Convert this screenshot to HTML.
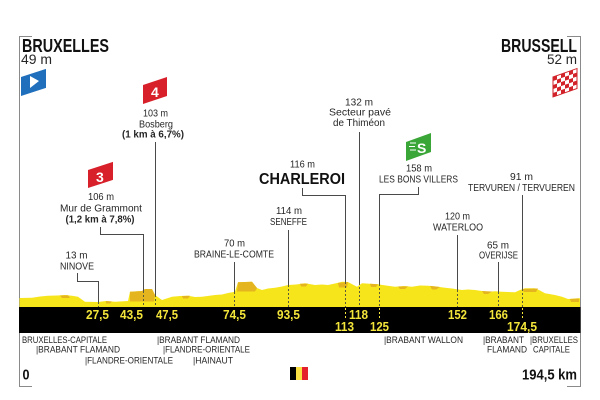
<!DOCTYPE html>
<html><head><meta charset="utf-8"><style>
html,body{margin:0;padding:0;background:#fff;}
svg{display:block;}
text{font-family:"Liberation Sans Narrow","Liberation Sans",sans-serif;fill:#262626;}
.b{font-weight:bold;}
.km{font-weight:bold;fill:#f3e53a;font-size:12.5px;}
.lbl{font-size:10.5px;}
.reg{font-size:9.5px;fill:#333;}
</style></head><body>
<svg width="600" height="400" viewBox="0 0 600 400" xmlns="http://www.w3.org/2000/svg">
<rect width="600" height="400" fill="#fff"/>
<!-- frame -->
<g stroke="#8a8a8a" stroke-width="1" fill="none">
<path d="M32,36.5 H19.5 V386.5 H32"/>
<path d="M567,36.5 H580.5 V386.5 H567"/>
</g>
<!-- profile -->
<polygon fill="#f7e51c" points="19.5,307 19.5,298 32,297.7 40,296.5 48,295.7 57,295.5 65,295 72,295.8 78,296.7 85,301.7 98,302 106,301 115,301.7 128,301 130,291.7 142,291 145,289 152,289 155,295 162,300 172,296.7 180,296 188,295.7 195,297 202,296.7 215,295 222,294.5 228,293 235,291.7 238,282.3 252,281.7 257,288 262,290 268,288.5 275,287.7 282,286.5 288,285 296,284.5 305,283.3 315,285 322,284.5 328,285 335,283.5 342,281.7 348,282 357,286.7 362,283.3 370,283.8 378,284.3 386,285.5 395,286.7 404,286 412,286.7 420,285.5 428,285.7 436,286.5 445,287.7 452,288.5 462,290 468,289.5 475,290 482,291 488,291.7 495,291.2 502,291.7 508,292 515,292.3 520,290 525,288.3 535,288.3 540,290.5 545,293.3 555,295 562,296.7 568,299 578,298.3 580,298.3 580,307"/>
<g fill="#e4b51e">
<polygon points="130,291.7 142,291 145,289 152,289 155,295 154,301.5 130,301.5"/>
<polygon points="237,291.5 238,282.3 252,281.7 257,288 255,291.5"/>
<polygon points="60,295.5 68,295.3 70,298 62,298"/>
<polygon points="106,301 112,301.5 110,303.5 106,303.5"/>
<polygon points="182,296 190,295.8 188,298.5 183,298.5"/>
<polygon points="338,283 348,282 347,287.5 339,287.5"/>
<polygon points="300,283.8 308,283.6 306,286.5 301,286.5"/>
<polygon points="398,286.5 408,286.4 405,289 400,289"/>
<polygon points="370,283.8 378,284.3 376,287 371,287"/>
<polygon points="430,285.9 440,287 436,289.5 432,289.5"/>
<polygon points="482,291 492,291.5 488,294 484,294"/>
<polygon points="522,289 538,288.5 536,292 524,292"/>
<polygon points="570,299 579,298.5 579,302 571,302"/>
</g>
<!-- black band -->
<rect x="19" y="307" width="561.5" height="26" fill="#000"/>
<!-- leader lines -->
<g stroke="#4a4a4a" stroke-width="1" fill="none">
<path d="M155.5,142 V295"/>
<path d="M100.5,227 V234.5 H143.5 V291"/>
<path d="M77.5,273 V281.5 H98.5 V302"/>
<path d="M234.5,262 V292"/>
<path d="M288.5,230 V285"/>
<path d="M302.5,188 V195.5 H345.5 V282"/>
<path d="M359.5,132 V283"/>
<path d="M418.5,187 V194.5 H379.5 V284"/>
<path d="M457.5,235 V290"/>
<path d="M498.5,262 V292"/>
<path d="M522.5,195 V289"/>
</g>
<g stroke="#5a5a3a" stroke-width="1" stroke-dasharray="2,2" fill="none">
<path d="M98.5,302 V307"/>
<path d="M143.5,291 V307"/>
<path d="M155.5,295 V307"/>
<path d="M234.5,292 V307"/>
<path d="M288.5,285 V307"/>
<path d="M345.5,282 V307"/>
<path d="M359.5,283 V307"/>
<path d="M379.5,284 V307"/>
<path d="M457.5,290 V307"/>
<path d="M498.5,292 V307"/>
<path d="M522.5,289 V307"/>
</g>
<g stroke="#f3e53a" stroke-width="1" stroke-dasharray="2,2" fill="none">
<path d="M345.5,308 V320"/>
<path d="M379.5,308 V320"/>
<path d="M522.5,308 V320"/>
</g>
<!-- km labels -->
<text class="km" x="86" y="319" textLength="23" lengthAdjust="spacingAndGlyphs">27,5</text>
<text class="km" x="120" y="319" textLength="23" lengthAdjust="spacingAndGlyphs">43,5</text>
<text class="km" x="156" y="319" textLength="22" lengthAdjust="spacingAndGlyphs">47,5</text>
<text class="km" x="223" y="319" textLength="23" lengthAdjust="spacingAndGlyphs">74,5</text>
<text class="km" x="277" y="319" textLength="23" lengthAdjust="spacingAndGlyphs">93,5</text>
<text class="km" x="349" y="319" textLength="19" lengthAdjust="spacingAndGlyphs">118</text>
<text class="km" x="335" y="331" textLength="19" lengthAdjust="spacingAndGlyphs">113</text>
<text class="km" x="370" y="331" textLength="19" lengthAdjust="spacingAndGlyphs">125</text>
<text class="km" x="448" y="319" textLength="19" lengthAdjust="spacingAndGlyphs">152</text>
<text class="km" x="489" y="319" textLength="19" lengthAdjust="spacingAndGlyphs">166</text>
<text class="km" x="507" y="331" textLength="30" lengthAdjust="spacingAndGlyphs">174,5</text>
<!-- start / finish -->
<text class="b" x="22" y="52" font-size="18" textLength="87" lengthAdjust="spacingAndGlyphs" style="fill:#111">BRUXELLES</text>
<text x="21" y="64" font-size="14" textLength="31" lengthAdjust="spacingAndGlyphs">49 m</text>
<text class="b" x="501" y="52" font-size="18" textLength="76" lengthAdjust="spacingAndGlyphs" style="fill:#111">BRUSSELL</text>
<text x="547" y="64" font-size="14" textLength="30" lengthAdjust="spacingAndGlyphs">52 m</text>
<!-- blue flag -->
<g transform="translate(21,77) skewY(-18)"><rect width="25" height="19" fill="#1f6fbd"/></g>
<polygon points="30,76 30,88 39,81" fill="#fff"/>
<!-- checkered -->
<g transform="translate(553,77) skewY(-19.5)">
<rect width="24" height="20" fill="#fff" stroke="#d2232a" stroke-width="1"/>
<g fill="#d2232a">
<rect x="0" y="0" width="4" height="4"/><rect x="8" y="0" width="4" height="4"/><rect x="16" y="0" width="4" height="4"/>
<rect x="4" y="4" width="4" height="4"/><rect x="12" y="4" width="4" height="4"/><rect x="20" y="4" width="4" height="4"/>
<rect x="0" y="8" width="4" height="4"/><rect x="8" y="8" width="4" height="4"/><rect x="16" y="8" width="4" height="4"/>
<rect x="4" y="12" width="4" height="4"/><rect x="12" y="12" width="4" height="4"/><rect x="20" y="12" width="4" height="4"/>
<rect x="0" y="16" width="4" height="4"/><rect x="8" y="16" width="4" height="4"/><rect x="16" y="16" width="4" height="4"/>
</g></g>
<!-- climb flags -->
<g transform="translate(143,85) skewY(-18.4)"><rect width="24" height="19" fill="#d8202a"/></g>
<text class="b" x="151" y="97" font-size="14" style="fill:#fff">4</text>
<g transform="translate(88,170) skewY(-18)"><rect width="25" height="18" fill="#d8202a"/></g>
<text class="b" x="96" y="182" font-size="14" style="fill:#fff">3</text>
<g transform="translate(406,142) skewY(-19.8)"><rect width="25" height="19" fill="#3aa637"/></g>
<text class="b" x="417" y="153" font-size="14" style="fill:#fff">S</text>
<g stroke="#fff" stroke-width="1"><path d="M410,143 h6 M409,146.5 h6 M410,150 h6"/></g>
<!-- labels -->
<g class="lbl" text-anchor="middle">
<text x="155.5" y="116.5" textLength="25" lengthAdjust="spacingAndGlyphs">103 m</text>
<text x="156" y="127.3" textLength="34" lengthAdjust="spacingAndGlyphs">Bosberg</text>
<text class="b" x="153" y="137.5" textLength="62" lengthAdjust="spacingAndGlyphs">(1 km à 6,7%)</text>
<text x="101" y="200" textLength="26" lengthAdjust="spacingAndGlyphs">106 m</text>
<text x="101" y="211.7" textLength="82" lengthAdjust="spacingAndGlyphs">Mur de Grammont</text>
<text class="b" x="100" y="222.5" textLength="69" lengthAdjust="spacingAndGlyphs">(1,2 km à 7,8%)</text>
<text x="76.5" y="258.3" textLength="22" lengthAdjust="spacingAndGlyphs">13 m</text>
<text x="77" y="269.3" textLength="34" lengthAdjust="spacingAndGlyphs">NINOVE</text>
<text x="234.5" y="246.7" textLength="21" lengthAdjust="spacingAndGlyphs">70 m</text>
<text x="234" y="257.7" textLength="80" lengthAdjust="spacingAndGlyphs">BRAINE-LE-COMTE</text>
<text x="289" y="214" textLength="26" lengthAdjust="spacingAndGlyphs">114 m</text>
<text x="288.5" y="225" textLength="37" lengthAdjust="spacingAndGlyphs">SENEFFE</text>
<text x="302.5" y="167.3" textLength="25" lengthAdjust="spacingAndGlyphs">116 m</text>
<text x="359" y="105.7" textLength="28" lengthAdjust="spacingAndGlyphs">132 m</text>
<text x="360" y="115.7" textLength="62" lengthAdjust="spacingAndGlyphs">Secteur pavé</text>
<text x="359" y="126" textLength="52" lengthAdjust="spacingAndGlyphs">de Thiméon</text>
<text x="419" y="171.7" textLength="26" lengthAdjust="spacingAndGlyphs">158 m</text>
<text x="418.5" y="182.3" textLength="79" lengthAdjust="spacingAndGlyphs">LES BONS VILLERS</text>
<text x="521.5" y="180" textLength="23" lengthAdjust="spacingAndGlyphs">91 m</text>
<text x="521.5" y="191" textLength="107" lengthAdjust="spacingAndGlyphs">TERVUREN / TERVUEREN</text>
<text x="457.5" y="219.7" textLength="25" lengthAdjust="spacingAndGlyphs">120 m</text>
<text x="458" y="230.7" textLength="50" lengthAdjust="spacingAndGlyphs">WATERLOO</text>
<text x="498" y="248.5" textLength="22" lengthAdjust="spacingAndGlyphs">65 m</text>
<text x="498.5" y="258.3" textLength="39" lengthAdjust="spacingAndGlyphs">OVERIJSE</text>
</g>
<text class="b" x="259" y="184" font-size="15.5" textLength="86" lengthAdjust="spacingAndGlyphs" style="fill:#111">CHARLEROI</text>
<!-- regions -->
<g class="reg">
<text x="22" y="343" textLength="85" lengthAdjust="spacingAndGlyphs">BRUXELLES-CAPITALE</text>
<text x="36" y="352.5" textLength="84" lengthAdjust="spacingAndGlyphs">|BRABANT FLAMAND</text>
<text x="85" y="363.5" textLength="88" lengthAdjust="spacingAndGlyphs">|FLANDRE-ORIENTALE</text>
<text x="157" y="343" textLength="83" lengthAdjust="spacingAndGlyphs">|BRABANT FLAMAND</text>
<text x="163" y="352.5" textLength="87" lengthAdjust="spacingAndGlyphs">|FLANDRE-ORIENTALE</text>
<text x="193" y="363.5" textLength="40" lengthAdjust="spacingAndGlyphs">|HAINAUT</text>
<text x="384" y="343" textLength="79" lengthAdjust="spacingAndGlyphs">|BRABANT WALLON</text>
<text x="483" y="343" textLength="41" lengthAdjust="spacingAndGlyphs">|BRABANT</text>
<text x="487" y="352.5" textLength="40" lengthAdjust="spacingAndGlyphs">FLAMAND</text>
<text x="530" y="343" textLength="48" lengthAdjust="spacingAndGlyphs">|BRUXELLES</text>
<text x="533" y="352.5" textLength="37" lengthAdjust="spacingAndGlyphs">CAPITALE</text>
</g>
<!-- bottom -->
<text class="b" x="22.5" y="379.3" font-size="15" textLength="7" lengthAdjust="spacingAndGlyphs" style="fill:#111">0</text>
<text class="b" x="522" y="379.5" font-size="15" textLength="55" lengthAdjust="spacingAndGlyphs" style="fill:#111">194,5 km</text>
<rect x="290" y="367" width="6" height="13" fill="#000"/>
<rect x="296" y="367" width="6" height="13" fill="#fae042"/>
<rect x="302" y="367" width="6" height="13" fill="#e4202c"/>
</svg>
</body></html>
